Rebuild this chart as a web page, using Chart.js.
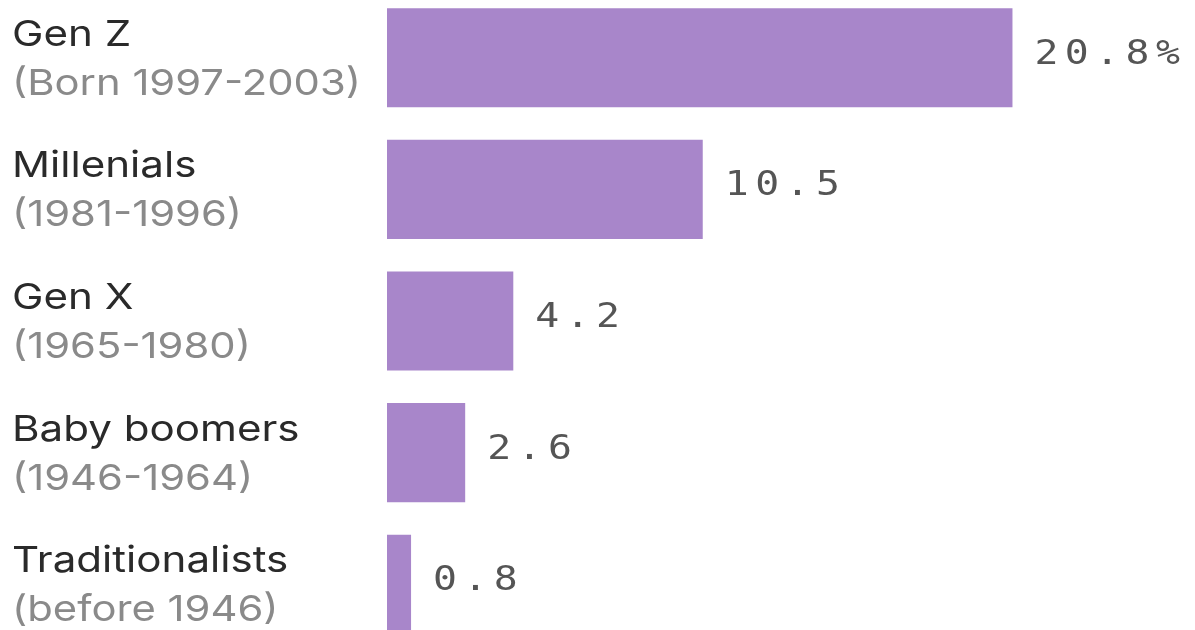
<!DOCTYPE html>
<html>
<head>
<meta charset="utf-8">
<script src="https://cdn.jsdelivr.net/npm/chart.js@4"></script>
<style>
html,body{margin:0;padding:0;background:#fff;overflow:hidden;width:1195px;height:630px;}
#wrap{position:absolute;left:0;top:-8px;width:1195px;height:658px;}
</style>
</head>
<body>
<div id="wrap"><canvas id="c" width="1195" height="658"></canvas></div>
<script>
const categories = ["Gen Z", "Millenials", "Gen X", "Baby boomers", "Traditionalists"];
const subLabels = ["(Born 1997-2003)", "(1981-1996)", "(1965-1980)", "(1946-1964)", "(before 1946)"];
const values = [20.8, 10.5, 4.2, 2.6, 0.8];
const valueLabels = ["20.8%", "10.5", "4.2", "2.6", "0.8"];

function stretchedText(ctx, text, x, y, sx) {
  ctx.save();
  ctx.translate(x, y);
  ctx.scale(sx, 1);
  ctx.fillText(text, 0, 0);
  ctx.restore();
}

const labelPlugin = {
  id: 'labels',
  afterDatasetsDraw(chart) {
    const ctx = chart.ctx;
    const y = chart.scales.y;
    const meta = chart.getDatasetMeta(0);
    ctx.save();
    ctx.textAlign = 'left';
    ctx.textBaseline = 'alphabetic';
    categories.forEach((cat, i) => {
      const cy = y.getPixelForValue(i);
      ctx.font = '400 36px Inter';
      ctx.fillStyle = '#2a2a2a';
      stretchedText(ctx, cat, 12, cy - 12, 1.17);
      ctx.fillStyle = '#8a8a8a';
      stretchedText(ctx, subLabels[i], 12, cy + 37, 1.16);
    });
    ctx.font = '34px "DejaVu Sans Mono"';
    ctx.letterSpacing = '5.5px';
    ctx.fillStyle = '#555555';
    meta.data.forEach((bar, i) => {
      stretchedText(ctx, valueLabels[i], bar.x + 22, bar.y + 6, 1.17);
    });
    ctx.restore();
  }
};

new Chart(document.getElementById('c'), {
  type: 'bar',
  data: {
    labels: categories,
    datasets: [{
      data: values,
      backgroundColor: '#a886ca',
      borderWidth: 0,
      categoryPercentage: 1,
      barPercentage: 0.753
    }]
  },
  options: {
    indexAxis: 'y',
    responsive: false,
    animation: false,
    layout: { padding: { left: 387, right: 0, top: 0, bottom: 0 } },
    plugins: { legend: { display: false }, tooltip: { enabled: false } },
    scales: {
      x: { display: false, min: 0, max: 26.87 },
      y: { display: false }
    }
  },
  plugins: [labelPlugin]
});
</script>
</body>
</html>
